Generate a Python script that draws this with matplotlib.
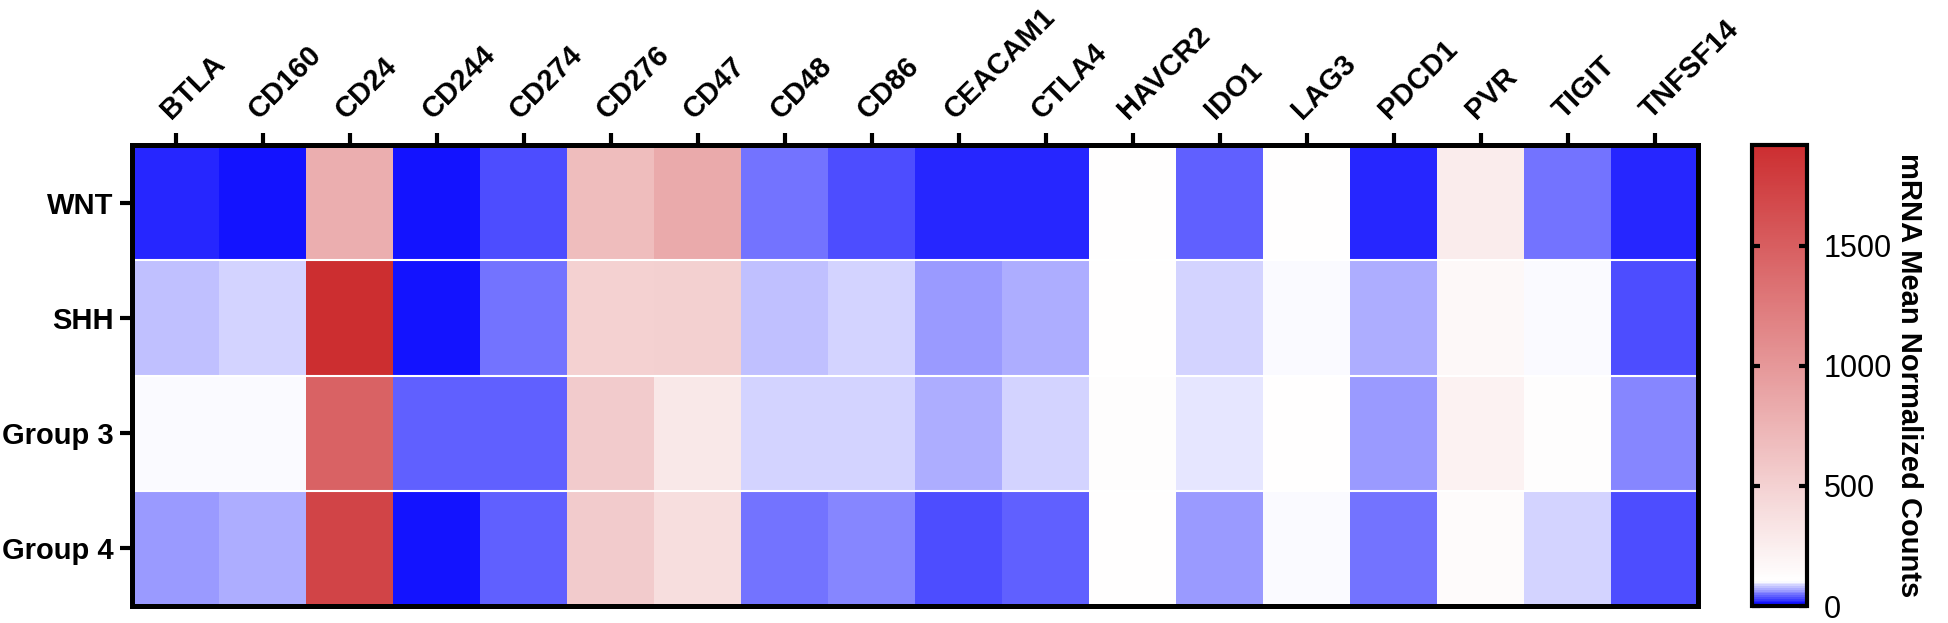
import matplotlib.pyplot as plt
import numpy as np
from matplotlib.colors import LinearSegmentedColormap, Normalize

plt.rcParams['font.family'] = ['Liberation Sans', 'DejaVu Sans']

genes = ["BTLA", "CD160", "CD24", "CD244", "CD274", "CD276", "CD47", "CD48", "CD86",
         "CEACAM1", "CTLA4", "HAVCR2", "IDO1", "LAG3", "PDCD1", "PVR", "TIGIT", "TNFSF14"]
groups = ["WNT", "SHH", "Group 3", "Group 4"]

# mean normalized counts per subgroup
wnt = [20, 14, 805, 12, 30, 675, 840, 49, 36, 16, 20, 105, 43, 115, 16, 268, 50, 15]
shh = [82, 89, 1920, 14, 51, 509, 515, 75, 83, 64, 74, 108, 86, 100, 69, 160, 100, 31]
group3 = [100, 100, 1467, 41, 44, 553, 300, 84, 83, 71, 87, 125, 91, 106, 64, 210, 122, 56]
group4 = [64, 70, 1720, 14, 39, 553, 396, 50, 53, 37, 43, 105, 64, 100, 51, 135, 83, 31]

data = np.array([wnt, shh, group3, group4])

vmax = 1920
white_at = 100
cmap = LinearSegmentedColormap.from_list(
    "prism_bwr",
    [(0.0, (0.0, 0.0, 1.0)), (white_at / vmax, (1.0, 1.0, 1.0)), (1.0, (0.80, 0.18, 0.19))])
norm = Normalize(vmin=0, vmax=vmax)

fig = plt.figure(figsize=(19.49, 6.23), dpi=100)
ax = fig.add_axes([132 / 1949, 17 / 623, 1566 / 1949, 461 / 623])
cax = fig.add_axes([1752 / 1949, 17 / 623, 55 / 1949, 461 / 623])

mesh = ax.pcolormesh(data, cmap=cmap, norm=norm)
for y in range(1, len(groups)):
    ax.axhline(y, color="white", lw=1.5)

ax.set_xlim(0, len(genes))
ax.set_ylim(len(groups), 0)
ax.xaxis.tick_top()
ax.set_xticks(np.arange(len(genes)) + 0.5)
ax.set_xticklabels(genes, rotation=45, ha="left", va="bottom", rotation_mode="anchor",
                   fontsize=21, fontweight="bold")
ax.set_yticks(np.arange(len(groups)) + 0.5)
ax.set_yticklabels(groups, fontsize=21, fontweight="bold")
ax.tick_params(axis="x", direction="out", length=9, width=3, pad=6)
ax.tick_params(axis="y", direction="out", length=9, width=3, pad=4)
for sp in ax.spines.values():
    sp.set_linewidth(3.6)

cbar = fig.colorbar(mesh, cax=cax)
cbar.set_ticks([0, 500, 1000, 1500])
cbar.outline.set_linewidth(3)
cax.tick_params(axis="y", direction="in", left=True, right=True, length=6, width=3,
                labelsize=22, pad=12)
cbar.set_label("mRNA Mean Normalized Counts", rotation=270, va="bottom",
               fontsize=21, fontweight="bold", labelpad=2)

plt.savefig("out.png", dpi=100)
